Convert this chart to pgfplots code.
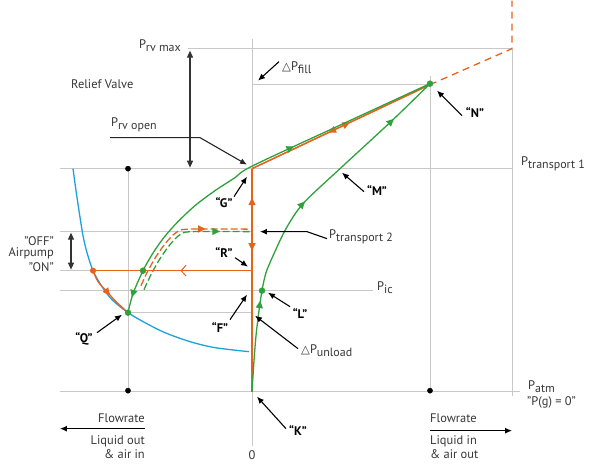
\documentclass[border=0pt]{standalone}
\usepackage{pgfplots}
\pgfplotsset{compat=1.18}
\usepackage{fontspec}
\setmainfont{PT Sans}
\newfontfamily\dejavu{DejaVu Sans}
\usetikzlibrary{arrows.meta,decorations.markings}

\definecolor{org}{RGB}{232,98,28}
\definecolor{grn}{RGB}{46,160,60}
\definecolor{blu}{RGB}{26,162,222}
\definecolor{grd}{RGB}{200,200,200}
\definecolor{txt}{RGB}{55,55,55}

\tikzset{
  tri/.tip={Triangle[length=7.5pt,width=7pt]},
  barb/.tip={Straight Barb[length=5pt,width=11pt,line width=1pt]},
  lbl/.style={-{Latex[length=7pt,width=6pt]},line width=1.1pt,black},
  t/.style={text=txt, inner sep=0pt},
}
\newcommand{\ft}{\fontsize{12.5}{15}\selectfont}
\newcommand{\fb}{\bfseries\fontsize{12.5}{15}\selectfont}
% P with a lowered subscript word
\newcommand{\Ps}[1]{{\ft P\raisebox{-0.28em}{\fontsize{12}{13}\selectfont #1}}}
\newcommand{\tri}{{\dejavu\fontsize{11.5}{12}\selectfont △}}

\begin{document}
\begin{tikzpicture}
\begin{axis}[
  scale only axis, width=600bp, height=472bp,
  xmin=0, xmax=600, ymin=0, ymax=472, y dir=reverse,
  hide axis, clip=false,
]
\path (0,0) rectangle (600,472);

% grid lines
\draw[grd, line width=0.9pt]
  (252,38) -- (252,445)
  (128,168) -- (128,390)
  (430,75) -- (430,390)
  (512,48) -- (512,395)
  (188,48) -- (512,48)
  (252,84) -- (430,84)
  (60,168) -- (512,168)
  (60,231) -- (252,231)
  (60,270) -- (252,270)
  (60,290) -- (373,290)
  (128,312) -- (252,312)
  (60,391) -- (520,391);

% blue curve
\addplot[blu, line width=1.3pt, smooth, no markers] coordinates {
  (73,168) (76,190) (79,210) (83,235) (87,252) (93,270) (102,286)
  (112,299) (128,312) (145,322) (165,332) (190,341) (215,347) (249,351)
};

% orange dashed extension
\addplot[org, line width=1.3pt, dash pattern=on 7pt off 5pt, no markers] coordinates {
  (430,84) (512,48) (512,0)
};

% orange dashed curve
\addplot[org, line width=1.3pt, smooth, no markers, dash pattern=on 7pt off 3pt,
  postaction={decorate}, decoration={markings, mark=at position 0.68 with {\arrow{tri}}}]
  coordinates {
  (141,285) (147,272) (156,256) (166,242) (176,232) (188,228.5) (250,228.5)
};
% green dashed curve
\addplot[grn, line width=1.3pt, smooth, no markers, dash pattern=on 7pt off 3pt,
  postaction={decorate}, decoration={markings, mark=at position 0.78 with {\arrow{tri}}}]
  coordinates {
  (144,289) (151,274) (160,258) (170,244) (180,234) (192,231) (250,231)
};

% orange horizontal back to the blue curve
\addplot[org, line width=1.3pt, no markers,
  postaction={decorate}, decoration={markings, mark=at position 0.45 with {\arrow{barb}}}]
  coordinates {(252,270) (93,270)};
% orange along blue curve to Q
\addplot[org, line width=1.3pt, smooth, no markers,
  postaction={decorate}, decoration={markings, mark=at position 0.55 with {\arrow{tri}}}]
  coordinates {(93,270) (98,281) (107,291) (116,301) (128,312)};
% orange vertical K -> G
\addplot[org, line width=1.3pt, no markers,
  postaction={decorate}, decoration={markings,
    mark=at position 0.87 with {\arrow{tri}},
    mark=at position 0.632 with {\arrowreversed{tri}}}]
  coordinates {(252,391) (252,168)};
% orange G -> N, arrow towards N
\addplot[org, line width=1.3pt, no markers,
  postaction={decorate}, decoration={markings,
    mark=at position 0.55 with {\arrow{tri}}}]
  coordinates {(252,168) (430,84)};
% orange N -> G, arrow towards G
\addplot[org, line width=1.3pt, no markers,
  postaction={decorate}, decoration={markings,
    mark=at position 0.57 with {\arrow{tri}}}]
  coordinates {(430,84) (252,168)};

% green Q -> G -> N
\addplot[grn, line width=1.3pt, smooth, no markers,
  postaction={decorate}, decoration={markings,
    mark=at position 0.04 with {\arrowreversed{tri}},
    mark=at position 0.62 with {\arrow{tri}}}]
  coordinates {
  (128,312) (133,293) (143,270) (152,254) (163,238) (177,222) (195,205)
  (215,190) (235,177) (252,165.5) (340,124.5) (430,83)
};
% green K -> L -> M -> N
\addplot[grn, line width=1.3pt, smooth, no markers,
  postaction={decorate}, decoration={markings,
    mark=at position 0.245 with {\arrow{tri}},
    mark=at position 0.54 with {\arrow{tri}},
    mark=at position 0.865 with {\arrow{tri}}}]
  coordinates {
  (252,391) (254,360) (256,335) (259,310) (262,290) (266,272) (274,253)
  (286,228) (303,203) (340,168) (392,120) (430,83)
};

% dots
\addplot[only marks, mark=*, mark size=2.6pt, black] coordinates {(128,168) (128,390) (430,390)};
\addplot[only marks, mark=*, mark size=2.8pt, org] coordinates {(93,270)};
\addplot[only marks, mark=*, mark size=3pt, grn] coordinates {(143,270) (128,312) (262,290) (430,83)};

% relief valve annotations
\draw[{Triangle[length=7pt,width=6pt]}-{Triangle[length=7pt,width=6pt]}, line width=1.1pt, black!80] (190,50) -- (190,167);
\node[t, anchor=east] at (181,45) {\Ps{rv max}};
\node[t, anchor=west] at (71,84) {\ft Relief Valve};
\node[t, anchor=west] at (111,124) {\Ps{rv open}};
\draw[lbl, black!85] (110,137) -- (200,137) -- (247,164);

\draw[lbl] (279,61) -- (258,80);
\node[t, anchor=west] at (282,67) {\tri\Ps{fill}};

\node[t, anchor=west] at (521,163) {\Ps{transport 1}};
\draw[lbl] (327,238) -- (307,231) -- (260,231);
\node[t, anchor=west] at (329,236) {\Ps{transport 2}};
\node[t, anchor=west] at (377,287) {\Ps{ic}};
\node[t, anchor=west] at (528,386) {\Ps{atm}};
\node[t, anchor=west] at (527,402) {\ft ''P(g) = 0''};

\draw[lbl] (298,348) -- (255,315);
\node[t, anchor=west] at (301,350) {\tri\Ps{unload}};

% point labels
\node[t, text=black] at (475,112) {\fb ``N''};
\draw[lbl] (462,115) -- (437,90);
\node[t, text=black] at (377,190) {\fb ``M''};
\draw[lbl] (364,191) -- (342,172);
\node[t, text=black] at (224,202) {\fb ``G''};
\draw[lbl] (234,196) -- (247,176);
\node[t, text=black] at (224,252) {\fb ``R''};
\draw[lbl] (235,257) -- (248,266);
\node[t, text=black] at (220,327) {\fb ``F''};
\draw[lbl] (230,319) -- (247,294);
\node[t, text=black] at (300,313) {\fb ``L''};
\draw[lbl] (290,306) -- (268,292);
\node[t, text=black] at (298,430) {\fb ``K''};
\draw[lbl] (286,428) -- (257,396);
\node[t, text=black] at (84,338) {\fb ``Q''};
\draw[lbl] (97,332) -- (122,314);

% airpump
\draw[{Triangle[length=7pt,width=6pt]}-{Triangle[length=7pt,width=6pt]}, line width=1.1pt, black!80] (71,232) -- (71,269);
\node[t, anchor=east] at (54,240) {\ft ''OFF''};
\node[t, anchor=east] at (54,253) {\ft Airpump};
\node[t, anchor=east] at (54,266) {\ft ''ON''};

% flowrate legends
\node[t, anchor=east] at (145,418) {\ft Flowrate};
\draw[lbl] (145,428) -- (60,428);
\node[t, anchor=east] at (145,441) {\ft Liquid out};
\node[t, anchor=east] at (145,453) {\ft \& air in};
\node[t] at (252,454) {\ft 0};
\node[t, anchor=west] at (430,418) {\ft Flowrate};
\draw[lbl] (430,430) -- (512,430);
\node[t, anchor=west] at (430,441) {\ft Liquid in};
\node[t, anchor=west] at (430,453) {\ft \& air out};
\end{axis}
\end{tikzpicture}
\end{document}
